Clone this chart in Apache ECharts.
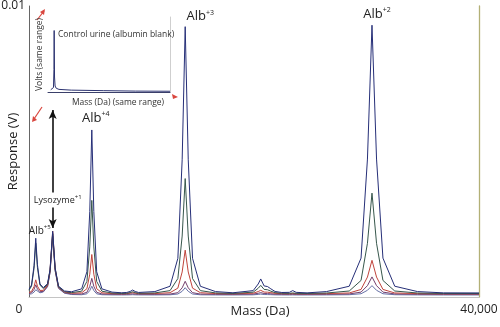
<!DOCTYPE html>
<html>
<head>
<meta charset="utf-8">
<script src="https://cdn.jsdelivr.net/npm/echarts@6/dist/echarts.min.js"></script>
<style>
  html, body { margin: 0; padding: 0; background: #fff; }
  #chart { width: 500px; height: 327px; }
</style>
</head>
<body>
<div id="chart"></div>
<script>
// Shared mass axis (Da) for all urine spectra
const mass = [
  12900, 13050, 13200, 13301, 13400, 13550, 13750, 14000, 14150, 14305, 14450, 14650, 15000,
  15426, 16026, 16336, 16506, 16626, 16746, 16916, 17226, 17826,
  18400, 18700, 18900, 19050, 19200, 19400,
  20368, 21268, 21733, 21988, 22168, 22348, 22603, 23068, 23968,
  25000, 26200, 26500, 26650, 26850, 27050, 27250, 27500, 27900,
  28350, 28550, 28750,
  29400, 30551, 31901, 32601, 32981, 33251, 33521, 33901, 34601, 35951,
  37500, 39600
];

// Response (V) of each spiked sample, highest albumin level first
const trace1 = [
  0.000264, 0.000412, 0.001081, 0.002019, 0.001110, 0.000450, 0.000322, 0.000458, 0.000953, 0.002258, 0.001007, 0.000376, 0.000207,
  0.000180, 0.000280, 0.000868, 0.002940, 0.005740, 0.002940, 0.000868, 0.000280, 0.000168,
  0.000145, 0.000156, 0.000190, 0.000240, 0.000190, 0.000156,
  0.000186, 0.000369, 0.001330, 0.004715, 0.009290, 0.004715, 0.001330, 0.000369, 0.000186,
  0.000145, 0.000219, 0.000447, 0.000620, 0.000380, 0.000360, 0.000280, 0.000190, 0.000155,
  0.000160, 0.000220, 0.000160,
  0.000142, 0.000186, 0.000370, 0.001336, 0.004740, 0.009340, 0.004740, 0.001336, 0.000370, 0.000186,
  0.000142, 0.000140
];
const trace2 = [
  0.000234, 0.000371, 0.000986, 0.001849, 0.001014, 0.000407, 0.000292, 0.000429, 0.000912, 0.002187, 0.000965, 0.000350, 0.000184,
  0.000150, 0.000200, 0.000536, 0.001720, 0.003320, 0.001720, 0.000536, 0.000200, 0.000136,
  0.000122, 0.000129, 0.000150, 0.000180, 0.000150, 0.000129,
  0.000140, 0.000219, 0.000634, 0.002095, 0.004070, 0.002095, 0.000634, 0.000219, 0.000140,
  0.000122, 0.000166, 0.000300, 0.000400, 0.000260, 0.000250, 0.000200, 0.000150, 0.000130,
  0.000125, 0.000140, 0.000125,
  0.000121, 0.000137, 0.000206, 0.000569, 0.001845, 0.003570, 0.001845, 0.000569, 0.000206, 0.000137,
  0.000121, 0.000120
];
const trace3 = [
  0.000152, 0.000191, 0.000358, 0.000590, 0.000374, 0.000227, 0.000228, 0.000407, 0.000922, 0.002264, 0.000986, 0.000344, 0.000173,
  0.000130, 0.000144, 0.000286, 0.000785, 0.001460, 0.000785, 0.000286, 0.000144, 0.000117,
  0.000111, 0.000116, 0.000130, 0.000150, 0.000130, 0.000116,
  0.000118, 0.000148, 0.000305, 0.000860, 0.001610, 0.000860, 0.000305, 0.000148, 0.000118,
  0.000111, 0.000130, 0.000187, 0.000230, 0.000170, 0.000165, 0.000150, 0.000125, 0.000115,
  0.000112, 0.000118, 0.000112,
  0.000110, 0.000116, 0.000139, 0.000260, 0.000685, 0.001260, 0.000685, 0.000260, 0.000139, 0.000116,
  0.000110, 0.000110
];
const trace4 = [
  0.000122, 0.000149, 0.000262, 0.000418, 0.000276, 0.000182, 0.000194, 0.000364, 0.000844, 0.002093, 0.000904, 0.000308, 0.000149,
  0.000105, 0.000104, 0.000162, 0.000365, 0.000640, 0.000365, 0.000162, 0.000104, 0.000093,
  0.000090, 0.000093, 0.000100, 0.000110, 0.000100, 0.000093,
  0.000092, 0.000101, 0.000149, 0.000315, 0.000540, 0.000315, 0.000149, 0.000101, 0.000092,
  0.000090, 0.000100, 0.000128, 0.000150, 0.000120, 0.000117, 0.000110, 0.000097, 0.000092,
  0.000090, 0.000095, 0.000090,
  0.000090, 0.000093, 0.000105, 0.000168, 0.000390, 0.000690, 0.000390, 0.000168, 0.000105, 0.000093,
  0.000090, 0.000090
];
const trace5 = [
  0.000094, 0.000110, 0.000169, 0.000249, 0.000182, 0.000144, 0.000172, 0.000354, 0.000860, 0.002172, 0.000924, 0.000298, 0.000131,
  0.000085, 0.000078, 0.000109, 0.000220, 0.000370, 0.000220, 0.000109, 0.000078, 0.000072,
  0.000071, 0.000072, 0.000075, 0.000080, 0.000075, 0.000072,
  0.000071, 0.000076, 0.000103, 0.000195, 0.000320, 0.000195, 0.000103, 0.000076, 0.000071,
  0.000070, 0.000075, 0.000089, 0.000100, 0.000085, 0.000083, 0.000080, 0.000074, 0.000071,
  0.000070, 0.000072, 0.000070,
  0.000070, 0.000072, 0.000078, 0.000112, 0.000230, 0.000390, 0.000230, 0.000112, 0.000078, 0.000072,
  0.000070, 0.000070
];

// Control urine (albumin blank), drawn in the inset
const insetMass  = [13500, 13900, 14100, 14200, 14250, 14330, 14450, 14700, 15300, 18000, 25000, 32000, 39600];
const insetVolts = [0.0003, 0.0003, 0.0006, 0.0030, 0.0082, 0.0020, 0.0008, 0.0005, 0.00035, 0.00025, 0.00018, 0.00012, 0.0001];

// Albumin charge states labelled on the main spectrum
const albCharges = ['+5', '+4', '+3', '+2'];
const albMass    = [13301, 16626, 22168, 33251];

// Lysozyme internal standard
const lysoMass  = 14305;
const lysoLabel = ['Lysozyme', '+1'];
const lysoArrow = [0.00237, 0.00643];
const lysoTextLevel = 0.00333;

// Axis ranges and tick text
const xMin = 12900, xMax = 39600;
const xTickLabels = ['0', '40,000'];
const yMax = 0.01;
const yTickLabel = '0.01';

const FONT = '"Open Sans", "Liberation Sans", sans-serif';
const pairs = vals => mass.map((m, i) => [m, vals[i]]);
const peakValue = m => trace1[mass.indexOf(m)];

const labelOffsets = [[4, 4], [4, 1], [15, 3], [5, 2]];
const labelSizes = [10, 13, 13, 13];

const albPoints = albMass.map((m, i) => ({
  coord: [m, peakValue(m)],
  label: {
    formatter: '{b' + i + '|Alb}{s' + i + '|' + albCharges[i] + '}',
    offset: labelOffsets[i]
  }
}));

const richAlb = {};
labelSizes.forEach((fs, i) => {
  richAlb['b' + i] = { fontSize: fs, fontFamily: FONT, color: '#222', lineHeight: fs + 2 };
  richAlb['s' + i] = { fontSize: Math.max(6, Math.round(fs * 0.55)), fontFamily: FONT, color: '#222', verticalAlign: 'top', lineHeight: Math.round(fs * 0.75) };
});

const traceDefs = [
  { data: trace5, color: '#6670a6' },
  { data: trace4, color: '#74406e' },
  { data: trace3, color: '#c0443c' },
  { data: trace2, color: '#37574c' },
  { data: trace1, color: '#262f78' }
];

const series = traceDefs.map(t => ({
  type: 'line',
  xAxisIndex: 0, yAxisIndex: 0,
  data: pairs(t.data),
  showSymbol: false,
  symbol: 'none',
  lineStyle: { color: t.color, width: 1 },
  silent: true,
  animation: false
}));

// lysozyme arrow sits on the first trace so the labels of the top trace draw over it
series[0].markLine = {
  silent: true,
  symbol: ['arrow', 'arrow'],
  symbolSize: [6, 9],
  lineStyle: { color: '#111', width: 1.6, type: 'solid' },
  label: { show: false },
  data: [[{ coord: [lysoMass, lysoArrow[0]] }, { coord: [lysoMass, lysoArrow[1]] }]],
  animation: false
};

const topTrace = series[series.length - 1];
topTrace.markPoint = {
  symbol: 'circle', symbolSize: 1,
  itemStyle: { color: 'rgba(0,0,0,0)' },
  label: { show: true, position: 'top', distance: 5, rich: richAlb },
  data: albPoints.concat([{
    coord: [lysoMass, lysoTextLevel],
    label: {
      position: 'inside',
      formatter: '{t|' + lysoLabel[0] + '}{u|' + lysoLabel[1] + '}',
      backgroundColor: '#fff',
      padding: [2, 1, 2, 1],
      offset: [5, 0],
      rich: {
        t: { fontSize: 9, fontFamily: FONT, color: '#222', lineHeight: 11 },
        u: { fontSize: 6, fontFamily: FONT, color: '#222', verticalAlign: 'top', lineHeight: 7 }
      }
    }
  }]),
  animation: false
};

series.push({
  type: 'line',
  xAxisIndex: 1, yAxisIndex: 2,
  data: insetMass.map((m, i) => [m, insetVolts[i]]),
  showSymbol: false, symbol: 'none',
  lineStyle: { color: '#2b3270', width: 1 },
  silent: true, animation: false
});

const option = {
  backgroundColor: '#fff',
  animation: false,
  title: {
    text: 'Control urine (albumin blank)',
    left: 53, top: 25,
    textStyle: { fontSize: 8.5, fontWeight: 'normal', fontFamily: FONT, color: '#333' }
  },
  grid: [
    { left: 29, right: 21, top: 6, bottom: 30, outerBoundsMode: 'none', containLabel: false },
    { left: 48, top: 17, width: 122, height: 75, outerBoundsMode: 'none', containLabel: false }
  ],
  xAxis: [
    {
      type: 'value', gridIndex: 0, min: xMin, max: xMax,
      name: 'Mass (Da)', nameLocation: 'middle', nameGap: 8, nameMoveOverlap: false,
      nameTextStyle: { fontSize: 13, fontFamily: FONT, color: '#222', padding: [0, 0, 0, 12] },
      axisLine: { show: true, lineStyle: { color: '#c4c4c4', width: 1 } },
      axisTick: { show: false },
      splitLine: { show: false },
      axisLabel: {
        customValues: [xMin, xMax],
        margin: 7,
        showMinLabel: true, showMaxLabel: true,
        formatter: v => v === xMin ? '{l|' + xTickLabels[0] + '}' : '{r|' + xTickLabels[1] + '}',
        rich: {
          l: { fontSize: 12, fontFamily: FONT, color: '#222', padding: [0, 20, 0, 0] },
          r: { fontSize: 12, fontFamily: FONT, color: '#222' }
        }
      }
    },
    {
      type: 'value', gridIndex: 1, min: xMin, max: xMax,
      name: 'Mass (Da) (same range)', nameLocation: 'middle', nameGap: 6, nameMoveOverlap: false,
      nameTextStyle: { fontSize: 8.5, fontFamily: FONT, color: '#333', padding: [0, 0, 0, 18] },
      axisLine: { show: true, lineStyle: { color: '#3a3f6a', width: 1 } },
      axisTick: { show: false }, axisLabel: { show: false }, splitLine: { show: false }
    }
  ],
  yAxis: [
    {
      type: 'value', gridIndex: 0, min: 0, max: yMax, interval: yMax,
      name: 'Response (V)', nameLocation: 'middle', nameGap: 9, nameRotate: 90, nameMoveOverlap: false,
      nameTextStyle: { fontSize: 13, fontFamily: FONT, color: '#222' },
      axisLine: { show: true, lineStyle: { color: '#666', width: 1 } },
      axisTick: { show: false },
      splitLine: { show: false },
      axisLabel: {
        margin: 4, fontSize: 12, fontFamily: FONT, color: '#222',
        formatter: v => v === yMax ? yTickLabel : ''
      }
    },
    {
      type: 'value', gridIndex: 0, position: 'right', min: 0, max: yMax,
      axisLine: { show: true, onZero: false, lineStyle: { color: '#b3b076', width: 1.3 } },
      axisTick: { show: false }, axisLabel: { show: false }, splitLine: { show: false }
    },
    {
      type: 'value', gridIndex: 1, min: 0, max: yMax,
      name: 'Volts (same range)', nameLocation: 'middle', nameGap: 4, nameRotate: 90, nameMoveOverlap: false,
      nameTextStyle: { fontSize: 8.5, fontFamily: FONT, color: '#333' },
      axisLine: { show: false }, axisTick: { show: false }, axisLabel: { show: false }, splitLine: { show: false }
    },
    {
      type: 'value', gridIndex: 1, position: 'right', min: 0, max: yMax,
      axisLine: { show: true, onZero: false, lineStyle: { color: '#cfcfcf', width: 1 } },
      axisTick: { show: false }, axisLabel: { show: false }, splitLine: { show: false }
    }
  ],
  graphic: [
    // red pointers relating the inset scales to the main axes
    { type: 'line', shape: { x1: 37, y1: 20, x2: 44, y2: 11 }, style: { stroke: '#d9473f', lineWidth: 1.2 } },
    { type: 'polygon', shape: { points: [[45, 9], [40, 12], [44, 15]] }, style: { fill: '#d9473f' } },
    { type: 'line', shape: { x1: 42, y1: 107, x2: 34, y2: 119 }, style: { stroke: '#d9473f', lineWidth: 1.2 } },
    { type: 'polygon', shape: { points: [[32, 122], [33, 116], [37, 120]] }, style: { fill: '#d9473f' } },
    { type: 'polygon', shape: { points: [[178, 97], [172, 94], [173, 99]] }, style: { fill: '#d9473f' } }
  ],
  series: series
};

const chart = echarts.init(document.getElementById('chart'), null, { renderer: 'canvas' });
chart.setOption(option);
</script>
</body>
</html>
